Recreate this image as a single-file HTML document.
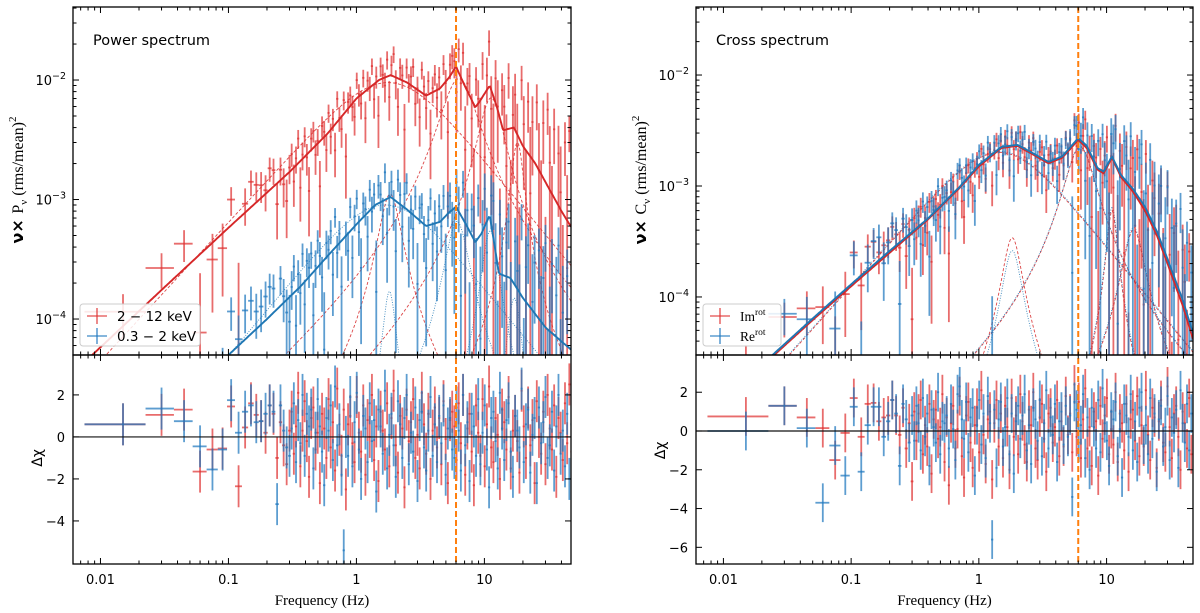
<!DOCTYPE html>
<html><head><meta charset="utf-8"><style>
html,body{margin:0;padding:0;background:#fff;width:1200px;height:613px;overflow:hidden;}
svg{display:block;}
text{font-family:"DejaVu Sans","Liberation Sans",sans-serif;}
.serif{font-family:"Liberation Serif","DejaVu Serif",serif;}
</style></head><body>
<svg id="fig" width="1200" height="613" viewBox="0 0 1200 613" xmlns="http://www.w3.org/2000/svg"></svg>
<script>
// ---------- data ----------
const linStep = 0.015, nLin = 20, geoRatio = 1.0398, nGeo = 130;
const freqs = [];
for (let k = 1; k <= nLin; k++) freqs.push(linStep * k);
for (let j = 1; j <= nGeo; j++) freqs.push(0.3 * Math.pow(geoRatio, j));

// total model curves (frequency, value)
const modelPowRedF = [0.006,0.01,0.03,0.1,0.3,0.6,1,1.5,1.85,2.5,3.5,4.5,5.3,6,7,8.5,9.5,11,12.5,14,17,20,25,30,40,48];
const modelPowRedV = [3.5e-5,5.8e-5,1.75e-4,5.8e-4,1.7e-3,3.6e-3,7e-3,1.0e-2,1.1e-2,9.5e-3,7.4e-3,8.5e-3,1.05e-2,1.3e-2,9e-3,5.9e-3,7e-3,9e-3,6e-3,3.8e-3,4.0e-3,2.8e-3,2.0e-3,1.4e-3,8e-4,5.8e-4];
const modelPowBlueF = [0.05,0.1,0.2,0.37,0.6,1,1.4,1.85,2.5,3.5,4.5,5.3,6,7,8.5,9.5,11,13,16,20,25,30,40,48];
const modelPowBlueV = [2.4e-5,5e-5,1e-4,1.9e-4,3.4e-4,6.2e-4,9e-4,1.05e-3,8.2e-4,6e-4,6.5e-4,7.8e-4,8.7e-4,6.5e-4,4.4e-4,5.2e-4,7.4e-4,2.4e-4,2.2e-4,1.5e-4,1.1e-4,8.5e-5,6.5e-5,5.5e-5];
const modelCrossF = [0.006,0.025,0.05,0.1,0.2,0.4,0.7,1,1.5,2,2.5,3.5,4.5,6,7,8.5,9.5,11,13,16,20,25,30,40,48];
const modelCrossRedV = [6e-6,3e-5,6.2e-5,1.25e-4,2.5e-4,5e-4,9.5e-4,1.5e-3,2.2e-3,2.3e-3,2.0e-3,1.6e-3,1.8e-3,2.6e-3,2.2e-3,1.4e-3,1.3e-3,1.8e-3,1.2e-3,9e-4,6e-4,3.5e-4,2e-4,8e-5,4e-5];
const modelCrossBlueV = [6.2e-6,3.1e-5,6.4e-5,1.3e-4,2.6e-4,5.1e-4,9.7e-4,1.55e-3,2.25e-3,2.35e-3,2.05e-3,1.65e-3,1.85e-3,2.7e-3,2.3e-3,1.45e-3,1.35e-3,1.85e-3,1.25e-3,9.5e-4,6.5e-4,3.8e-4,2.2e-4,9e-5,4.5e-5];

// components: [centre Hz, width Hz, peak value, lowSlope, highSlope]
const compPowRed = [[0,1.85,9.5e-3,1.16,1.3],[6,2,1.0e-2],[1.8,0.35,1.1e-3],[11,2.5,7e-3],[18,2,3e-3]];
const compPowBlue = [[0,1.7,9e-4,1.27,1.3],[1.8,0.2,1.7e-4],[6,1.2,6.5e-4],[11,1.5,5.5e-4],[17,2,1.5e-4]];
const compCrossRed = [[0,1.5,2.0e-3,1.28,1.4],[1.8,0.3,3.4e-4],[6,1.6,2.2e-3],[11,1,6e-4],[16,3,4e-4]];
const compCrossBlue = [[0,1.5,2.05e-3,1.28,1.4],[1.8,0.3,2.6e-4],[6,1.6,2.25e-3],[11,1,6.5e-4],[16,3,4.2e-4]];

// residuals (delta chi)
const residPowRed = [0.6,1.05,1.3,-1.65,-0.6,-0.55,1.45,-2.35,0.45,1.6,1.05,0.75,0.2,1.5,1.1,-1.0,0.7,-0.4,-1.3,0.3,
 1.2,-0.8,0.5,2.1,-1.4,0.3,1.7,-0.2,-1.9,0.9,1.4,-0.6,0.2,-2.2,1.1,0.4,-1.0,1.8,-0.5,0.7,-1.6,2.3,0.1,-0.9,1.3,-2.5,0.6,1.0,-0.3,-1.2,1.9,0.2,-0.7,1.5,-1.8,0.8,0.0,2.0,-1.1,0.5,-2.1,1.2,0.3,-0.6,1.6,-1.4,0.9,2.2,-0.4,-1.7,1.0,0.4,-2.4,1.3,-0.2,0.7,1.8,-1.0,0.1,-1.5,2.1,0.6,-0.8,1.1,-2.0,0.3,1.4,-0.5,0.9,-1.3,1.7,-0.1,-2.2,0.8,1.2,
 0.5,-1.1,1.6,-0.3,2.0,-1.8,0.4,1.1,-0.7,-2.3,1.5,0.2,-0.9,1.8,-1.4,0.6,2.4,-0.5,-1.2,0.9,0.1,-2.0,1.3,0.7,-0.6,1.9,-1.5,0.3,1.0,-0.2,-1.7,2.2,0.5,-1.0,1.4,-0.4,0.8,-2.2,1.7,0.0,-0.8,1.2,-1.3,2.0,0.4,-0.6,1.5,-1.9,0.9,0.2,-1.1,1.6,-0.3,2.5,-0.7];
const residPowBlue = [0.6,1.35,0.75,-0.45,-1.55,-0.6,1.75,0.2,1.2,1.5,0.7,0.75,1.1,1.5,1.2,-3.2,1.5,0.3,-0.5,-0.9,
 0.4,1.6,-1.2,0.8,-0.3,2.0,-0.9,1.1,0.5,1.3,-1.5,0.2,1.8,0.5,-0.7,-2.3,0.9,0.3,1.5,-1.1,2.4,-0.4,0.6,-1.8,-5.4,0.0,-0.9,1.9,-1.4,0.7,2.1,-0.6,-2.0,1.0,0.4,-1.2,1.6,-0.2,0.8,-2.6,1.3,0.5,-0.8,2.2,-1.5,0.1,1.1,-0.4,-1.9,1.7,0.6,-1.0,0.9,2.0,-1.3,0.2,-0.7,1.4,-2.1,0.8,1.2,-0.5,-1.6,0.3,1.9,-0.9,0.6,-1.2,1.0,-0.3,1.5,-1.8,0.4,0.9,-0.6,
 -1.0,1.4,0.3,-1.6,2.0,-0.4,0.7,-2.1,1.1,0.5,-0.9,1.8,-1.3,0.2,1.5,-0.6,-2.4,0.9,1.2,-0.2,-1.5,2.1,0.4,-1.1,0.8,1.6,-0.7,-1.9,1.0,0.3,-0.5,2.3,-1.2,0.6,1.3,-1.7,0.1,0.9,-2.2,1.4,-0.3,0.7,1.9,-1.0,-0.4,1.2,-1.6,0.5,2.0,-0.8,0.3,-1.4,1.1,-2.0,0.6];
const residCrossRed = [0.75,1.3,0.7,0.15,-1.5,-0.1,1.7,-0.3,1.4,1.45,0.5,0.7,0.8,1.6,0.8,-0.2,1.2,-0.9,0.4,-2.6,
 1.0,-0.5,0.9,1.6,-1.2,0.3,-0.8,1.4,-2.2,0.6,1.1,-0.4,0.2,1.9,-1.6,0.7,-2.8,0.4,1.3,-0.9,0.1,1.8,-1.3,-2.4,0.8,1.5,-0.6,-1.9,0.3,1.2,-1.1,2.1,-0.2,-1.7,0.6,1.0,-2.5,0.4,1.6,-0.8,0.9,-1.4,1.3,0.2,-2.0,1.7,-0.3,0.8,-1.2,1.9,0.5,-0.7,-1.6,1.1,0.3,2.0,-0.9,-1.5,0.7,1.4,-0.4,-2.1,0.9,1.2,-0.6,0.2,1.6,-1.3,0.5,-0.8,1.8,-0.2,0.9,-1.1,2.4,
 -0.3,1.5,-1.4,0.6,2.2,-0.9,0.2,-1.8,1.0,0.5,-2.3,1.3,-0.4,0.8,1.7,-1.2,0.1,-0.7,2.0,-1.6,0.9,0.4,-1.0,1.4,-2.1,0.6,1.1,-0.5,1.8,-1.3,0.3,-0.8,2.1,-0.2,-1.5,1.2,0.7,-1.9,0.5,1.6,-0.6,-1.1,2.3,0.2,-1.4,0.9,1.3,-0.3,-2.0,1.0,0.4,-0.9,1.7,-1.2,0.8];
const residCrossBlue = [0.0,1.3,0.15,-3.7,-0.75,-2.3,1.25,-2.1,0.3,1.25,1.25,-0.3,0.5,1.6,0.9,-1.8,1.4,0.6,-0.6,0.8,
 -0.5,1.3,0.4,-1.0,1.7,-0.3,0.9,-1.8,1.1,0.2,-0.6,2.0,-1.2,0.5,0.4,0.8,-0.9,1.4,0.1,-1.5,1.9,2.3,0.6,-0.4,1.5,-1.1,0.7,1.2,-2.3,0.3,1.6,-0.7,0.9,-1.4,1.8,0.4,-5.6,1.1,-1.9,0.6,1.5,-0.8,0.2,1.7,-1.2,0.9,-2.2,0.5,1.3,-0.4,0.8,1.9,-1.0,0.3,-1.7,1.2,0.6,-0.5,1.6,-1.3,0.4,2.1,-0.9,0.7,-0.2,1.4,-1.6,0.5,1.0,-0.7,1.3,-0.3,0.8,-3.4,1.5,
 1.1,-0.6,0.3,1.9,-1.4,0.7,-2.0,1.2,0.2,-0.9,1.6,-1.1,2.2,0.4,-0.5,-1.8,1.0,0.6,1.5,-1.3,0.1,-2.4,1.4,0.8,-0.3,1.9,-1.0,0.5,-1.6,1.2,2.0,-0.7,0.3,-1.2,1.7,-0.4,0.9,-2.1,0.6,1.3,-0.8,0.2,1.8,-1.5,0.7,-0.1,1.1,-1.9,2.1,0.4,-0.6,1.4,-1.0,0.9,-0.2];

// fractional 1-sigma error vs frequency
const errKnotF = [0.01,0.1,0.3,1,5,10,20,40];
const errPowRed = [0.55,0.45,0.3,0.22,0.28,0.5,1.1,2.0];
const errPowBlue = [0.9,0.7,0.42,0.3,0.36,0.7,1.5,2.6];
const errCrossRed = [0.7,0.55,0.32,0.18,0.22,0.5,1.1,2.2];
const errCrossBlue = [0.75,0.6,0.35,0.2,0.24,0.55,1.2,2.4];

const qpoFreq = 6.0;
const xTickVals = [0.01,0.1,1,10];
const xTickLabels = ["0.01","0.1","1","10"];

// ---------- drawing ----------
const NS = "http://www.w3.org/2000/svg";
const svg = document.getElementById("fig");
const RED = "rgba(222,45,45,0.7)", BLUE = "rgba(31,119,190,0.72)";
const RED_L = "#d62728", BLUE_L = "#1f77b4";
function mk(tag, attrs, parent) {
  const e = document.createElementNS(NS, tag);
  for (const k in attrs) e.setAttribute(k, attrs[k]);
  (parent || svg).appendChild(e);
  return e;
}
function interpLog(fa, va, f) {
  const lf = Math.log10(f);
  let i = 0;
  while (i < fa.length - 2 && f > fa[i + 1]) i++;
  const l0 = Math.log10(fa[i]), l1 = Math.log10(fa[i + 1]);
  const v0 = Math.log10(va[i]), v1 = Math.log10(va[i + 1]);
  return Math.pow(10, v0 + (v1 - v0) * (lf - l0) / (l1 - l0));
}
function interpLin(fa, va, f) {
  const lf = Math.log10(f);
  if (f <= fa[0]) return va[0];
  if (f >= fa[fa.length - 1]) return va[va.length - 1];
  let i = 0;
  while (f > fa[i + 1]) i++;
  const t = (lf - Math.log10(fa[i])) / (Math.log10(fa[i + 1]) - Math.log10(fa[i]));
  return va[i] + t * (va[i + 1] - va[i]);
}
function comp(c, f) {
  const nu0 = c[0], w = c[1], H = c[2];
  if (nu0 === 0) { const x = f / w; return H * 2 / (Math.pow(x, -c[3]) + Math.pow(x, c[4])); }
  return H * (f / nu0) * w * w / (w * w + (f - nu0) * (f - nu0));
}

let clipId = 0;
function panel(cfg) {
  const g = mk("g", {});
  
  
  const fmin = 0.0061, fmax = 47.5;
  const X = f => cfg.x1 + (Math.log10(f) - Math.log10(fmin)) / (Math.log10(fmax) - Math.log10(fmin)) * (cfg.x2 - cfg.x1);
  const yT1 = 7, yT2 = 355, yB1 = 355, yB2 = 564;
  const YT = v => yT1 + (cfg.lmax - Math.log10(v)) / (cfg.lmax - cfg.lmin) * (yT2 - yT1);
  const YB = v => yB1 + (cfg.rmax - v) / (cfg.rmax - cfg.rmin) * (yB2 - yB1);

  const defs = mk("defs", {}, g);
  const ct = "clipT" + (clipId), cb = "clipB" + (clipId++);
  const c1 = mk("clipPath", {id: ct}, defs);
  mk("rect", {x: cfg.x1, y: yT1, width: cfg.x2 - cfg.x1, height: yT2 - yT1}, c1);
  const c2 = mk("clipPath", {id: cb}, defs);
  mk("rect", {x: cfg.x1, y: yB1, width: cfg.x2 - cfg.x1, height: yB2 - yB1}, c2);
  const gt = mk("g", {"clip-path": "url(#" + ct + ")"}, g);
  
  
  const gb = mk("g", {"clip-path": "url(#" + cb + ")"}, g);
  
  

  cfg.series.forEach(s => {
    s.comps.forEach((c, ci) => {
      let d = "";
      for (let i = 0; i <= 400; i++) {
        const f = fmin * Math.pow(fmax / fmin, i / 400);
        const v = Math.max(comp(c, f), 1e-8);
        d += (i ? "L" : "M") + X(f).toFixed(1) + "," + YT(v).toFixed(1);
      }
      const p = mk("path", {d: d, fill: "none", stroke: s.line, "stroke-width": 0.9, "stroke-dasharray": s.dash, opacity: 0.85}, gt);
      
      
    });
  });
  cfg.series.forEach(s => {
    const n = Math.min(freqs.length, s.resid.length);
    for (let i = 0; i < n; i++) {
      const f = freqs[i];
      const hw = i < nLin ? linStep / 2 : f * (geoRatio - 1) / 2;
      const m = interpLog(s.mf, s.mv, f);
      const sg = interpLin(errKnotF, s.err, f);
      const r = s.resid[i];
      const val = m * (1 + r * sg), lo = val - m * sg, hi = val + m * sg;
      const gp = mk("g", {stroke: s.color, "stroke-width": 1.8}, gt);
      
      
      if (hi > 0) {
        const yHi = YT(hi), yLo = lo > 0 ? YT(lo) : yT2 + 5;
        mk("line", {x1: X(f), x2: X(f), y1: yHi, y2: yLo}, gp);
        if (val > 0) mk("line", {x1: X(f - hw), x2: X(f + hw), y1: YT(val), y2: YT(val)}, gp);
      }
      const gr = mk("g", {stroke: s.color, "stroke-width": 1.8}, gb);
      
      
      mk("line", {x1: X(f), x2: X(f), y1: YB(r + 1), y2: YB(r - 1)}, gr);
      mk("line", {x1: X(f - hw), x2: X(f + hw), y1: YB(r), y2: YB(r)}, gr);
    }
  });
  cfg.series.forEach(s => {
    let d = "";
    for (let i = 0; i <= 400; i++) {
      const f = fmin * Math.pow(fmax / fmin, i / 400);
      d += (i ? "L" : "M") + X(f).toFixed(1) + "," + YT(interpLog(s.mf, s.mv, f)).toFixed(1);
    }
    const p = mk("path", {d: d, fill: "none", stroke: s.line, "stroke-width": 1.9}, gt);
    
    
  });
  const zl = mk("line", {x1: cfg.x1, x2: cfg.x2, y1: YB(0), y2: YB(0), stroke: "#111", "stroke-width": 1.2}, g);
  
  
  const ql = mk("line", {x1: X(qpoFreq), x2: X(qpoFreq), y1: yT1, y2: yB2, stroke: "#ff7f0e", "stroke-width": 2, "stroke-dasharray": "6,3"}, g);
  
  

  [[yT1, yT2], [yB1, yB2]].forEach((yy, k) => {
    const r = mk("rect", {x: cfg.x1, y: yy[0], width: cfg.x2 - cfg.x1, height: yy[1] - yy[0], fill: "none", stroke: "#000", "stroke-width": 1.3}, g);
    
    
  });
  const tg = mk("g", {stroke: "#000", "stroke-width": 1}, g);
  
  
  for (let e = -3; e <= 1; e++) for (let m = 1; m <= 9; m++) {
    const f = m * Math.pow(10, e);
    if (f < fmin || f > fmax) continue;
    const L = m === 1 ? 6 : 3.5, x = X(f);
    [[yT1, 1], [yT2, -1], [yB1, 1], [yB2, -1]].forEach(([y, dir]) => mk("line", {x1: x, x2: x, y1: y, y2: y + dir * L}, tg));
  }
  xTickVals.forEach((v, i) => {
    const t = mk("text", {x: X(v), y: 584, "text-anchor": "middle", "font-size": 13}, g);
    t.textContent = xTickLabels[i];
    
    
  });
  const yg = mk("g", {stroke: "#000", "stroke-width": 1}, g);
  
  
  for (let e = -5; e <= -1; e++) for (let m = 1; m <= 9; m++) {
    const lv = Math.log10(m) + e;
    if (lv < cfg.lmin || lv > cfg.lmax) continue;
    const y = YT(Math.pow(10, lv)), L = m === 1 ? 6 : 3.5;
    mk("line", {x1: cfg.x1, x2: cfg.x1 + L, y1: y, y2: y}, yg);
    mk("line", {x1: cfg.x2, x2: cfg.x2 - L, y1: y, y2: y}, yg);
    if (m === 1) {
      const t = mk("text", {x: cfg.x1 - 7, y: y + 5, "text-anchor": "end", "font-size": 13}, g);
      
      
      t.appendChild(document.createTextNode("10"));
      const sp = mk("tspan", {dy: -6, "font-size": 9.5}, t);
      sp.textContent = "\u2212" + (-e);
    }
  }
  cfg.rticks.forEach(v => {
    const y = YB(v);
    mk("line", {x1: cfg.x1, x2: cfg.x1 + 6, y1: y, y2: y}, yg);
    mk("line", {x1: cfg.x2, x2: cfg.x2 - 6, y1: y, y2: y}, yg);
    const t = mk("text", {x: cfg.x1 - 8, y: y + 5, "text-anchor": "end", "font-size": 13}, g);
    t.textContent = v < 0 ? "\u2212" + (-v) : String(v);
    
    
  });
  const xl = mk("text", {x: (cfg.x1 + cfg.x2) / 2, y: 605, "text-anchor": "middle", "font-size": 15, class: "serif"}, g);
  xl.textContent = "Frequency (Hz)";
  
  
  const yl = mk("text", {transform: "translate(" + (cfg.x1 - 50) + ",180) rotate(-90)", "text-anchor": "middle", "font-size": 16}, g);
  
  
  const a = mk("tspan", {"font-weight": "bold"}, yl); a.textContent = "\u03bd\u00d7 ";
  const b = mk("tspan", {class: "serif"}, yl); b.textContent = cfg.ysym;
  const b2 = mk("tspan", {dy: 4, "font-size": 11, class: "serif"}, yl); b2.textContent = "\u03bd";
  const b3 = mk("tspan", {dy: -4, class: "serif"}, yl); b3.textContent = " (rms/mean)";
  const b4 = mk("tspan", {dy: -7, "font-size": 11, class: "serif"}, yl); b4.textContent = "2";
  const rl = mk("text", {transform: "translate(" + (cfg.x1 - 31) + "," + YB(-1) + ") rotate(-90)", "text-anchor": "middle", "font-size": 14}, g);
  rl.textContent = "\u0394\u03c7";
  
  
  const tt = mk("text", {x: cfg.x1 + 20, y: 45, "font-size": 14.5}, g);
  tt.textContent = cfg.title;
  
  
  const lg = mk("g", {}, g);
  
  
  mk("rect", {x: cfg.x1 + 7, y: 304, width: cfg.legW, height: 42, rx: 3, fill: "rgba(255,255,255,0.85)", stroke: "#ccc", "stroke-width": 1}, lg);
  cfg.series.forEach((s, i) => {
    const y = 316 + i * 20, x0 = cfg.x1 + 14;
    const le = mk("g", {}, lg);
    
    
    mk("line", {x1: x0, x2: x0 + 20, y1: y, y2: y, stroke: s.color, "stroke-width": 1.6}, le);
    mk("line", {x1: x0 + 10, x2: x0 + 10, y1: y - 8, y2: y + 8, stroke: s.color, "stroke-width": 1.6}, le);
    const t = mk("text", {x: x0 + 30, y: y + 5, "font-size": 13.5, class: s.supLabel ? "serif" : ""}, le);
    t.appendChild(document.createTextNode(s.label));
    if (s.supLabel) { const sp = mk("tspan", {dy: -6, "font-size": 9.5}, t); sp.textContent = s.supLabel; }
  });
}

panel({name: "power-spectrum-panel", x1: 73, x2: 571, lmax: -1.389, lmin: -4.301, rmax: 3.9, rmin: -6.05,
  rticks: [2, 0, -2, -4], title: "Power spectrum", ysym: "P", legW: 120,
  series: [
    {key: "hard-2-12kev", label: "2 \u2212 12 keV", color: RED, line: RED_L, dash: "3,2", mf: modelPowRedF, mv: modelPowRedV, comps: compPowRed, resid: residPowRed, err: errPowRed},
    {key: "soft-0.3-2kev", label: "0.3 \u2212 2 keV", color: BLUE, line: BLUE_L, dash: "1,1.5", mf: modelPowBlueF, mv: modelPowBlueV, comps: compPowBlue, resid: residPowBlue, err: errPowBlue}
  ]});
panel({name: "cross-spectrum-panel", x1: 696, x2: 1193, lmax: -1.387, lmin: -4.523, rmax: 3.92, rmin: -6.86,
  rticks: [2, 0, -2, -4, -6], title: "Cross spectrum", ysym: "C", legW: 78,
  series: [
    {key: "im-rot", label: "Im", supLabel: "rot", color: RED, line: RED_L, dash: "3,2", mf: modelCrossF, mv: modelCrossRedV, comps: compCrossRed, resid: residCrossRed, err: errCrossRed},
    {key: "re-rot", label: "Re", supLabel: "rot", color: BLUE, line: BLUE_L, dash: "1,1.5", mf: modelCrossF, mv: modelCrossBlueV, comps: compCrossBlue, resid: residCrossBlue, err: errCrossBlue}
  ]});
</script>
</body></html>
